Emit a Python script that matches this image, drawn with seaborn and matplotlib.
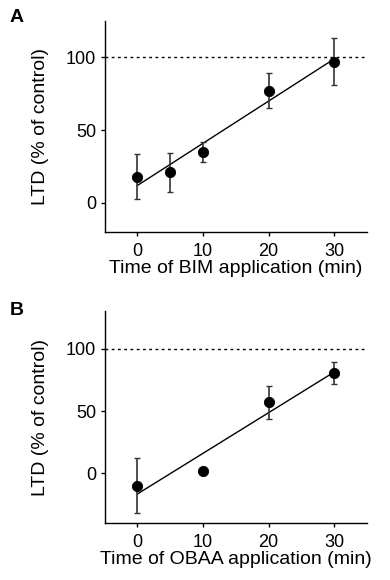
import numpy as np
import pandas as pd
import matplotlib
matplotlib.use('Agg')
import matplotlib.pyplot as plt
import seaborn as sns

# data
bim_time = [0, 5, 10, 20, 30]
bim_ltd = [18, 21, 35, 77, 97]
bim_err = [15.5, 13.5, 7, 12, 16]

obaa_time = [0, 10, 20, 30]
obaa_ltd = [-10, 2, 57, 80.5]
obaa_err = [22, 0, 13, 9]

sns.set_style('ticks')
plt.rcParams['font.family'] = ['Liberation Sans', 'DejaVu Sans']
for k in ['text.color', 'axes.labelcolor', 'xtick.color', 'ytick.color', 'axes.edgecolor']:
    plt.rcParams[k] = 'black'

fig = plt.figure(figsize=(3.9, 5.8), dpi=100)
ax_a = fig.add_axes([0.268, 0.600, 0.673, 0.364])
ax_b = fig.add_axes([0.268, 0.098, 0.673, 0.365])


def panel(ax, t, ltd, err, xlabel, ylim):
    """scatter with error bars, fitted line and 100% reference"""
    df = pd.DataFrame({'time': t, 'ltd': ltd})
    ax.axhline(100, color='black', ls=(0, (2, 2.5)), lw=1)
    # linear fit without confidence band
    sns.regplot(data=df, x='time', y='ltd', ci=None, scatter=False, ax=ax,
                line_kws={'color': 'black', 'lw': 1})
    ax.errorbar(t, ltd, yerr=err, fmt='none', ecolor='#333333', elinewidth=1.2,
                capsize=2, capthick=1)
    sns.scatterplot(data=df, x='time', y='ltd', ax=ax, color='black', s=55,
                    edgecolor='black', zorder=5)
    ax.set_xlim(-5, 35)
    ax.set_ylim(*ylim)
    ax.set_xticks([0, 10, 20, 30])
    ax.set_yticks([0, 50, 100])
    ax.tick_params(labelsize=13, length=3, width=1, pad=3)
    ax.tick_params(axis='x', pad=5)
    ax.set_xlabel(xlabel, fontsize=14, labelpad=0)
    ax.set_ylabel('LTD (% of control)', fontsize=14, labelpad=12)
    for s in ['left', 'bottom']:
        ax.spines[s].set_linewidth(1)
    sns.despine(ax=ax)
    return ax


panel(ax_a, bim_time, bim_ltd, bim_err, 'Time of BIM application (min)', (-20, 125))
panel(ax_b, obaa_time, obaa_ltd, obaa_err, 'Time of OBAA application (min)', (-40, 130))

fig.text(0.025, 0.970, 'A', fontsize=14, fontweight='bold', va='center')
fig.text(0.025, 0.465, 'B', fontsize=14, fontweight='bold', va='center')

fig.savefig('out.png', dpi=100)
